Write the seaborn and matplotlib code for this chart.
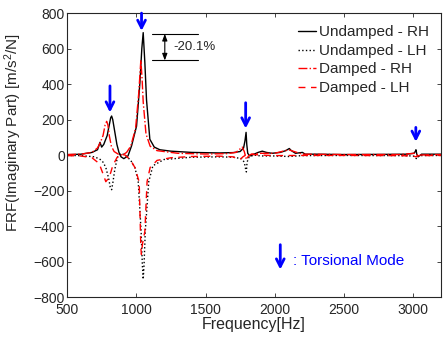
import numpy as np
import pandas as pd
import seaborn as sns
import matplotlib
matplotlib.use("Agg")
import matplotlib.pyplot as plt

# FRF curves (freq in Hz, imaginary part in m/s^2/N)
undamped_rh_f = [500, 600, 680, 720, 738, 750, 765, 790, 805, 815, 822, 830, 845, 860, 875, 890, 910, 940,
                 966, 1002, 1026, 1040, 1050, 1062, 1074, 1098, 1130, 1170, 1250, 1400,
                 1600, 1700, 1750, 1775, 1785, 1793, 1798, 1805, 1820, 1850, 1880, 1910, 1940, 1980, 2040,
                 2080, 2105, 2120, 2150, 2200, 2220, 2300, 2500, 2800, 2950, 3005, 3015, 3020, 3026, 3035,
                 3060, 3200]
undamped_rh_v = [2, 5, 15, 30, 72, 45, 60, 110, 170, 210, 220, 200, 130, 60, 15, -10, -20, -5,
                 52, 163, 405, 600, 690, 520, 311, 89, 45, 30, 22, 15,
                 12, 14, 20, 40, 80, 128, 60, 10, -5, 5, 15, 22, 15, 10, 15,
                 25, 37, 25, 10, 15, 5, 5, 3, 4, 5, 10, 20, 30, 5, -10,
                 5, 5]

undamped_lh_f = [500, 600, 700, 740, 760, 780, 800, 812, 822, 832, 845, 865, 890, 920, 960, 990, 1014,
                 1035, 1044, 1050, 1056, 1065, 1090, 1120, 1200, 1400, 1600, 1700, 1760, 1780,
                 1790, 1795, 1800, 1815, 1850, 1900, 2000, 2100, 2200, 2500, 2900, 3000, 3015, 3022, 3030,
                 3060, 3200]
undamped_lh_v = [-2, -3, -10, -25, -40, -70, -130, -180, -195, -150, -80, -10, 10, 0, -30, -70, -150,
                 -430, -620, -700, -620, -430, -150, -60, -25, -12, -10, -12, -20, -40,
                 -80, -95, -40, -10, 0, -5, -5, -8, -3, -2, -3, -5, -15, -20, -5,
                 -3, -2]

damped_rh_f = [500, 600, 680, 720, 740, 760, 775, 786, 795, 805, 820, 840, 870, 900, 930, 960, 995,
               1018, 1033, 1042, 1050, 1070, 1100, 1150, 1300, 1500, 1650, 1720, 1750, 1765,
               1780, 1795, 1810, 1830, 1900, 2000, 2100, 2200, 2500, 2900, 3010, 3030, 3200]
damped_rh_v = [3, 5, 15, 40, 70, 110, 170, 190, 170, 110, 50, 20, 5, 0, 15, 50, 150,
               350, 535, 430, 300, 120, 50, 25, 10, 6, 8, 15, 35, 45,
               20, -25, -5, 5, 10, 10, 30, 5, 3, 3, 10, 0, 3]

damped_lh_f = [500, 600, 680, 720, 738, 765, 780, 790, 800, 815, 830, 860, 890, 920, 960, 990, 1021,
               1033, 1037, 1045, 1062, 1078, 1100, 1150, 1250, 1400, 1600, 1700, 1730, 1750, 1770,
               1790, 1820, 1900, 2000, 2200, 2500, 2900, 3000, 3020, 3040, 3200]
damped_lh_v = [-3, -5, -15, -40, -60, -117, -150, -140, -130, -100, -60, -15, 5, 0, -30, -70, -152,
               -522, -560, -500, -430, -150, -70, -30, -15, -8, -6, -10, -20, -25, -10,
               0, 5, 0, -3, -2, -2, -3, -5, -10, -3, -2]

# torsional mode markers: (freq, arrow top, arrow bottom)
torsional_f = [810, 1038, 1790, 3019]
arrow_top = [390, 800, 295, 156]
arrow_bot = [240, 700, 150, 75]

peak_undamped = 683
peak_damped = 533

sns.set_style("ticks")
plt.rcParams['font.family'] = ['Liberation Sans', 'DejaVu Sans']
plt.rcParams['mathtext.default'] = 'regular'

fig = plt.figure(figsize=(4.44, 3.45), dpi=100)
ax = fig.add_axes([0.151, 0.139, 0.842, 0.823])

sns.lineplot(x=undamped_rh_f, y=undamped_rh_v, ax=ax, color='black', lw=1.0, sort=False,
             label='Undamped - RH')
sns.lineplot(x=undamped_lh_f, y=undamped_lh_v, ax=ax, color='black', lw=1.0, linestyle=':', sort=False,
             label='Undamped - LH')
sns.lineplot(x=damped_rh_f, y=damped_rh_v, ax=ax, color='red', lw=1.0, linestyle='-.', sort=False,
             label='Damped - RH')
sns.lineplot(x=damped_lh_f, y=damped_lh_v, ax=ax, color='red', lw=1.0, linestyle=(0, (5, 4)), sort=False,
             label='Damped - LH')

arrow_props = dict(arrowstyle='->,head_length=0.55,head_width=0.28', color='blue', lw=2,
                   shrinkA=0, shrinkB=0)
for f, t, b in zip(torsional_f, arrow_top, arrow_bot):
    ax.annotate('', xy=(f, b), xytext=(f, t), arrowprops=arrow_props, annotation_clip=False)

# legend-style note for the arrows
ax.annotate('', xy=(2040, -645), xytext=(2040, -505), arrowprops=arrow_props)
ax.text(2135, -596, ': Torsional Mode', color='blue', fontsize=11, va='center')

# damping reduction marker
ax.plot([1110, 1445], [peak_undamped, peak_undamped], color='black', lw=0.8)
ax.plot([1110, 1445], [peak_damped, peak_damped], color='black', lw=0.8)
ax.annotate('', xy=(1206, peak_damped), xytext=(1206, peak_undamped),
            arrowprops=dict(arrowstyle='<|-|>,head_length=0.4,head_width=0.15', color='black', lw=0.8,
                            shrinkA=0, shrinkB=0))
ax.text(1265, 607, '-20.1%', fontsize=9.5, va='center')

ax.set_xlim(500, 3200)
ax.set_ylim(-800, 800)
ax.set_xticks(np.arange(500, 3001, 500))
ax.set_yticks(np.arange(-800, 801, 200))
ax.tick_params(direction='in', top=True, right=True, labelsize=10, length=3, width=0.6)
ax.tick_params(axis='x', pad=4.5)
ax.tick_params(axis='y', pad=1.5)
for s in ax.spines.values():
    s.set_linewidth(0.8)
    s.set_color('#262626')
ax.set_xlabel('Frequency[Hz]', fontsize=11.5, labelpad=0)
ax.set_ylabel('FRF(Imaginary Part) [m/s$^2$/N]', fontsize=11)
ax.yaxis.set_label_coords(-0.115, 0.58)

ax.legend(loc='upper right', frameon=False, fontsize=11, handlelength=1.2, handletextpad=0.15,
          labelspacing=0.3, borderaxespad=0.4, bbox_to_anchor=(1.0, 1.0))

fig.savefig('out.png', dpi=100)
